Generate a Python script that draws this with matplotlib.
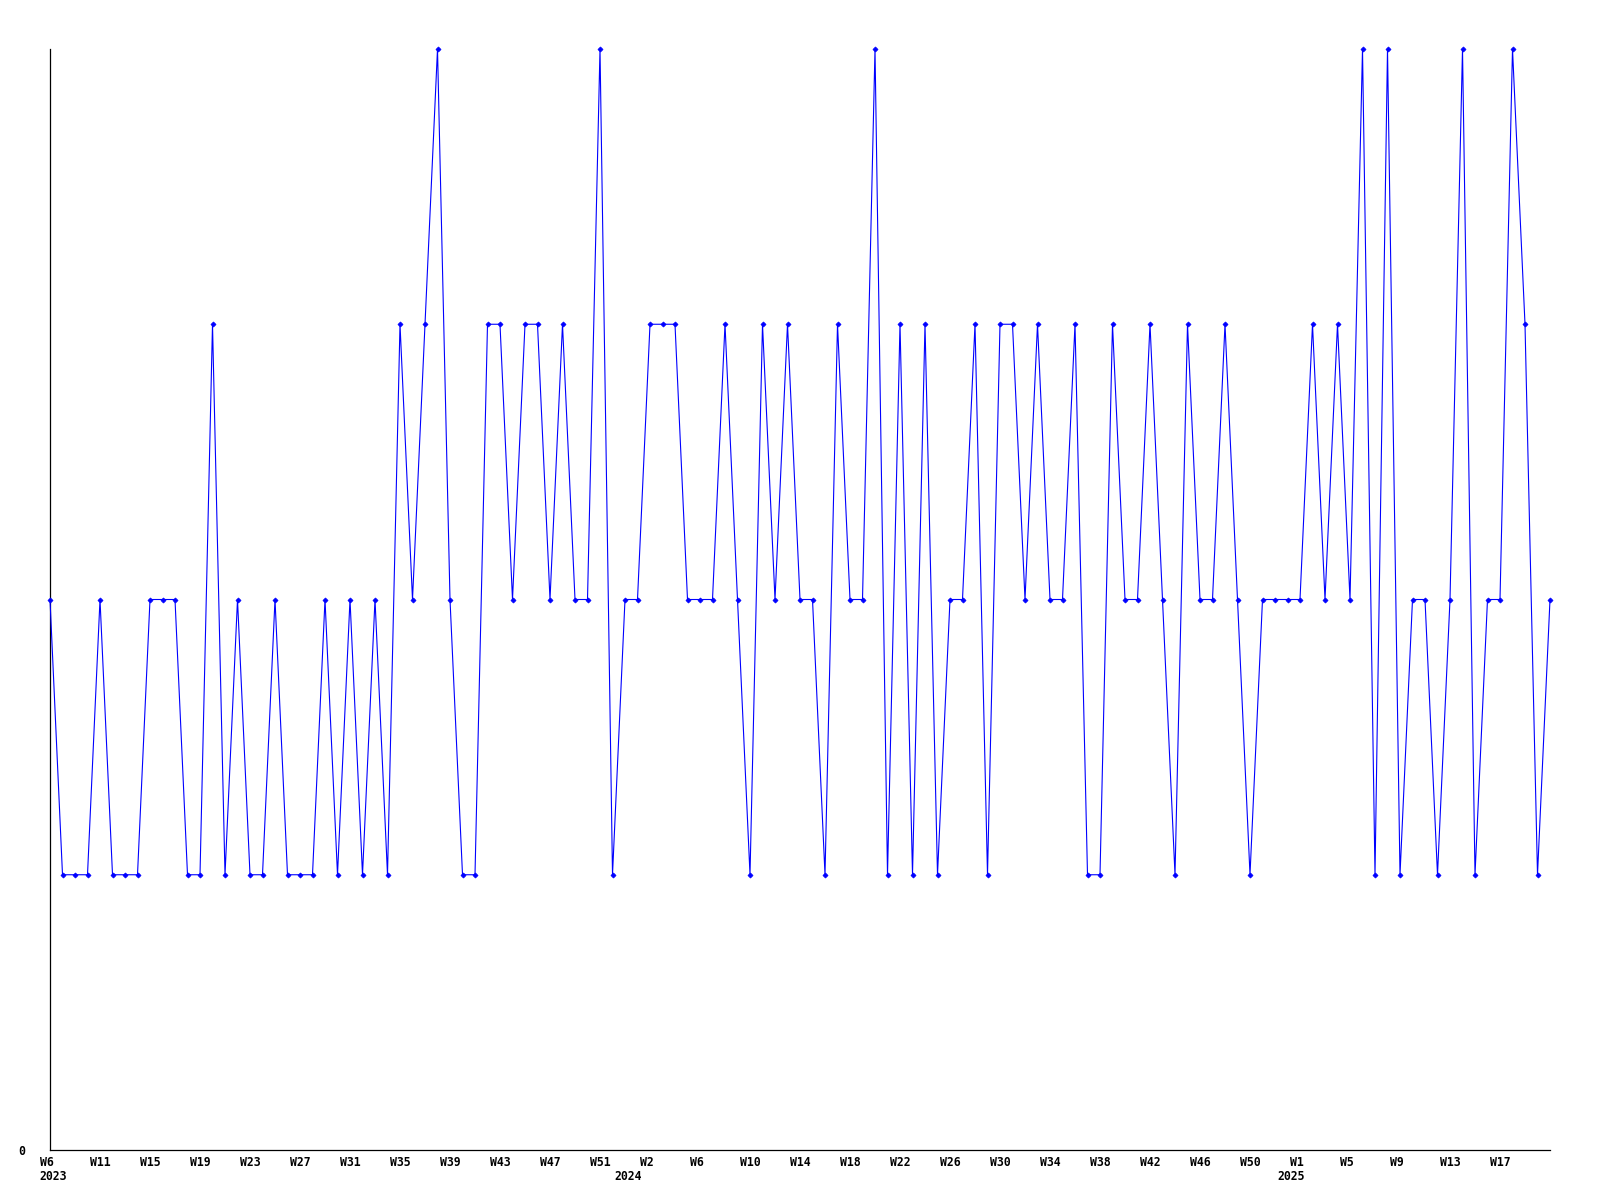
import matplotlib
matplotlib.use("Agg")
import matplotlib.pyplot as plt
from matplotlib.transforms import ScaledTranslation

# weekly values (2023 W6 .. 2025 ~W21)
values = [2, 1, 1, 1, 2, 1, 1, 1, 2, 2,
          2, 1, 1, 3, 1, 2, 1, 1, 2, 1,
          1, 1, 2, 1, 2, 1, 2, 1, 3, 2,
          3, 4, 2, 1, 1, 3, 3, 2, 3, 3,
          2, 3, 2, 2, 4, 1, 2, 2, 3, 3,
          3, 2, 2, 2, 3, 2, 1, 3, 2, 3,
          2, 2, 1, 3, 2, 2, 4, 1, 3, 1,
          3, 1, 2, 2, 3, 1, 3, 3, 2, 3,
          2, 2, 3, 1, 1, 3, 2, 2, 3, 2,
          1, 3, 2, 2, 3, 2, 1, 2, 2, 2,
          2, 3, 2, 3, 2, 4, 1, 4, 1, 2,
          2, 1, 2, 4, 1, 2, 2, 4, 3, 1,
          2]

tick_labels = ["W6", "W11", "W15", "W19", "W23", "W27", "W31", "W35", "W39", "W43",
               "W47", "W51", "W2", "W6", "W10", "W14", "W18", "W22", "W26", "W30",
               "W34", "W38", "W42", "W46", "W50", "W1", "W5", "W9", "W13", "W17"]
tick_step = 4

year_labels = ["2023", "2024", "2025"]
year_index = [0, 46, 99]

x = list(range(len(values)))

fig = plt.figure(figsize=(16, 12), dpi=100)
ax = fig.add_axes([50 / 1600, 1 - 1150 / 1200, 1500 / 1600, (1150 - 49) / 1200])

ax.plot(x, values, color="#0000ff", linewidth=0.8, marker="D", markersize=2.6,
        markerfacecolor="#0000ff", markeredgecolor="#0000ff", markeredgewidth=0.5,
        clip_on=False, zorder=3)

ax.set_xlim(0, len(values) - 1)
ax.set_ylim(0, 4)

for s in ["top", "right"]:
    ax.spines[s].set_visible(False)
for s in ["left", "bottom"]:
    ax.spines[s].set_color("black")
    ax.spines[s].set_linewidth(0.9)

font = dict(family="DejaVu Sans Mono", weight="bold", size=8.3)

ax.set_xticks([i * tick_step for i in range(len(tick_labels))])
ax.set_xticklabels(tick_labels, ha="left", **font)
ax.tick_params(axis="x", length=0, pad=4)
shift = ScaledTranslation(-10.5 / 100, 0, fig.dpi_scale_trans)
for lab in ax.get_xticklabels():
    lab.set_transform(lab.get_transform() + shift)

ax.set_yticks([0])
ax.set_yticklabels(["0"], **font)
ax.tick_params(axis="y", length=0, pad=18)

for yl, yi in zip(year_labels, year_index):
    ax.annotate(yl, xy=(yi, 0), xycoords=("data", "axes fraction"),
                xytext=(-10.5 * 0.72, -14.5), textcoords="offset points",
                ha="left", va="top", **font)

fig.savefig("out.png", dpi=100, facecolor="white")
